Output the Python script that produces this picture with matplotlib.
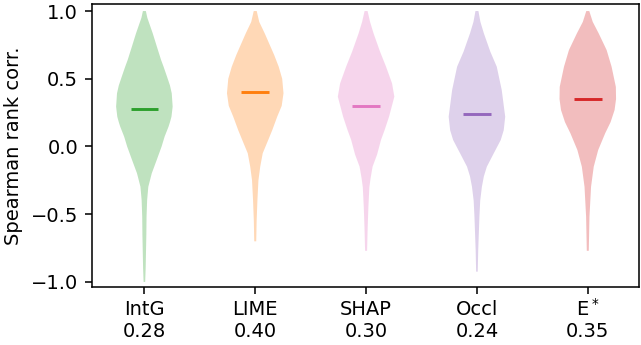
import numpy as np
import matplotlib
matplotlib.use("Agg")
import matplotlib.pyplot as plt

methods = ["IntG", "LIME", "SHAP", "Occl", "E$^*$"]
means = [0.28, 0.40, 0.30, 0.24, 0.35]
colors = ["tab:green", "tab:orange", "tab:pink", "tab:purple", "tab:red"]

# violin outlines: (correlation level, relative density)
intg_y = [1.0, 0.95, 0.835, 0.73, 0.638, 0.589, 0.515, 0.45, 0.392, 0.294, 0.22, 0.18, 0.146, 0.072, 0.0, -0.10, -0.198, -0.297, -0.395, -0.518, -0.65, -0.90, -1.0]
intg_d = [1.5, 3.0, 8.5, 13.0, 17.0, 19.5, 23.0, 26.0, 27.8, 28.7, 27.5, 26.0, 24.5, 20.5, 17.5, 12.5, 7.5, 4.0, 2.8, 2.2, 2.0, 1.3, 0.8]

lime_y = [1.0, 0.92, 0.835, 0.675, 0.589, 0.50, 0.393, 0.30, 0.22, 0.12, 0.048, -0.05, -0.149, -0.25, -0.395, -0.55, -0.70]
lime_d = [1.5, 4.0, 9.5, 19.0, 23.5, 27.0, 28.3, 26.5, 22.0, 17.0, 13.0, 7.5, 5.0, 3.2, 2.2, 1.4, 1.0]

shap_y = [1.0, 0.92, 0.835, 0.70, 0.589, 0.466, 0.368, 0.22, 0.12, 0.05, -0.06, -0.149, -0.235, -0.30, -0.45, -0.60, -0.77]
shap_d = [1.5, 4.0, 7.5, 14.0, 20.0, 26.0, 28.3, 23.0, 18.5, 15.0, 11.0, 6.5, 4.5, 3.3, 2.3, 1.6, 1.0]

occl_y = [1.0, 0.92, 0.835, 0.70, 0.589, 0.417, 0.22, 0.12, 0.048, -0.05, -0.149, -0.22, -0.297, -0.40, -0.518, -0.764, -0.924]
occl_d = [1.5, 3.5, 7.0, 13.5, 20.0, 25.0, 28.5, 27.0, 24.0, 17.0, 10.0, 7.0, 5.0, 3.3, 2.5, 1.3, 0.8]

estar_y = [1.0, 0.92, 0.835, 0.712, 0.589, 0.44, 0.35, 0.269, 0.18, 0.097, -0.026, -0.149, -0.297, -0.518, -0.77]
estar_d = [1.5, 5.0, 11.0, 19.0, 24.0, 28.3, 28.5, 27.0, 23.0, 17.5, 10.5, 6.0, 3.3, 1.7, 1.0]

profiles = [(intg_y, intg_d), (lime_y, lime_d), (shap_y, shap_d),
            (occl_y, occl_d), (estar_y, estar_d)]

plt.rcParams["font.family"] = "DejaVu Sans"
plt.rcParams["font.size"] = 10

DPI = 140
fig = plt.figure(figsize=(641 / DPI, 345 / DPI), dpi=DPI)
ax = fig.add_axes([0.1431, 0.169, 0.8543, 0.8194])

positions = np.arange(1, len(methods) + 1)
vpstats = []
for (ys, ds), m in zip(profiles, means):
    ys = np.array(ys)
    ds = np.array(ds)
    vpstats.append(dict(coords=ys, vals=ds, mean=m, median=m,
                        min=ys.min(), max=ys.max()))

parts = ax.violin(vpstats, positions=positions, widths=0.51,
                  showmeans=False, showextrema=False, showmedians=False)
for body, c in zip(parts["bodies"], colors):
    body.set_facecolor(c)
    body.set_edgecolor("none")
    body.set_alpha(0.3)

for p, m, c in zip(positions, means, colors):
    ax.hlines(m, p - 0.125, p + 0.125, color=c, lw=1.5)

ax.set_xlim(0.525, 5.465)
ax.set_ylim(-1.035, 1.052)
ax.set_yticks([-1.0, -0.5, 0.0, 0.5, 1.0])
ax.set_xticks(positions)
ax.set_xticklabels([f"{n}\n{m:.2f}" for n, m in zip(methods, means)])
ax.set_ylabel("Spearman rank corr.")

# align the second row of the superscripted label with the others
fig.canvas.draw()
ticks = ax.xaxis.get_major_ticks()
ref_bottom = ticks[0].label1.get_window_extent().y0
for t in ticks[1:]:
    bottom = t.label1.get_window_extent().y0
    dy = ref_bottom - bottom
    if abs(dy) > 0.5:
        t.set_pad(t.get_pad() - dy * 72 / DPI)

fig.savefig("out.png", dpi=DPI)
